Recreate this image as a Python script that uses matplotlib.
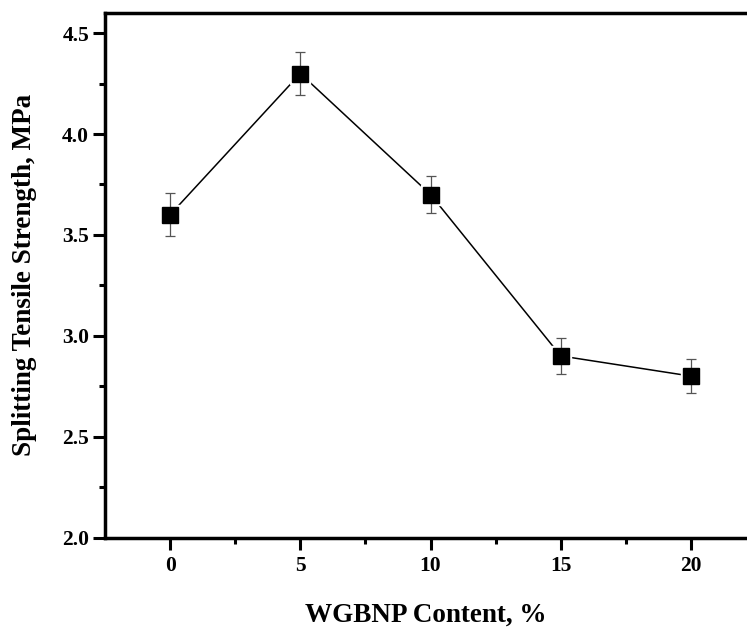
import numpy as np
import matplotlib.pyplot as plt

# WGBNP content (%) vs splitting tensile strength (MPa)
content = [0, 5, 10, 15, 20]
strength = [3.60, 4.30, 3.70, 2.90, 2.80]
err = [0.107, 0.105, 0.09, 0.09, 0.085]

plt.rcParams['font.family'] = ['Liberation Serif', 'DejaVu Serif']
plt.rcParams['font.weight'] = 'bold'

fig = plt.figure(figsize=(7.47, 6.27), dpi=100)
ax = fig.add_axes([105 / 747, (627 - 537.5) / 627, 1 - 105 / 747, (537.5 - 13) / 627])

# connecting line, broken near each marker by a white halo (Origin style)
ax.plot(content, strength, color='black', lw=1.1, zorder=1)
ax.plot(content, strength, ls='none', marker='s', ms=15, mfc='white', mec='white', zorder=2)
ax.errorbar(content, strength, yerr=err, fmt='none', ecolor='#555555', elinewidth=0.9,
            capsize=3.6, capthick=0.9, zorder=3)
ax.plot(content, strength, ls='none', marker='s', ms=11, mfc='black', mec='black', zorder=4)

ax.set_xlim(-2.5, 22.15)
ax.set_ylim(2.0, 4.6)
ax.set_xticks([0, 5, 10, 15, 20])
ax.set_xticks([2.5, 7.5, 12.5, 17.5], minor=True)
ax.set_yticks([2.0, 2.5, 3.0, 3.5, 4.0, 4.5])
ax.set_yticks([2.25, 2.75, 3.25, 3.75, 4.25], minor=True)
ax.set_yticklabels(['2.0', '2.5', '3.0', '3.5', '4.0', '4.5'])

ax.spines['right'].set_visible(False)
for s in ['left', 'bottom', 'top']:
    ax.spines[s].set_linewidth(2.5)

ax.tick_params(which='major', direction='out', length=8.5, width=2.2, labelsize=15.5, pad=3)
ax.tick_params(which='minor', direction='out', length=4.5, width=2.2)
ax.tick_params(axis='x', pad=5)

ax.set_xlabel('WGBNP Content, %', fontsize=19.5, fontweight='bold', labelpad=19)
ax.set_ylabel('Splitting Tensile Strength, MPa', fontsize=19.5, fontweight='bold', labelpad=18)

fig.savefig('out.png', dpi=100)
